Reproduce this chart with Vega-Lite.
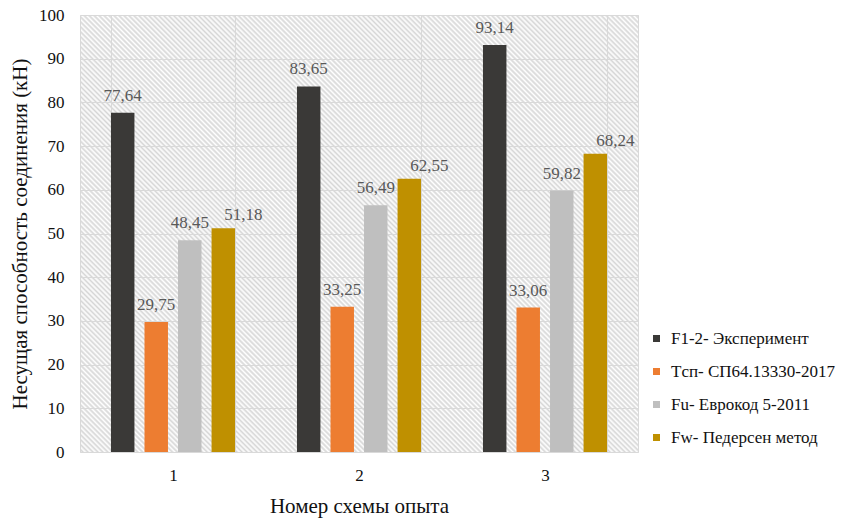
{
  "$schema": "https://vega.github.io/schema/vega-lite/v6.json",
  "autosize": {"type": "none"},
  "padding": {"left": 80, "top": 15, "right": 207, "bottom": 67},
  "width": 558,
  "height": 437,
  "background": "white",
  "config": {
    "font": "'Liberation Serif', 'Times New Roman', 'DejaVu Serif', serif",
    "locale": {"number": {"decimal": ",", "thousands": " ", "grouping": [3], "currency": ["", ""]}},
    "view": {
      "stroke": "#d9d9d9",
      "strokeWidth": 1,
      "fill": {
        "gradient": "linear",
        "x1": 1, "y1": 0, "x2": -0.105, "y2": 0.865,
        "stops": [
{"offset":0,"color":"#fff"},{"offset":0.0025,"color":"#d6d6d6"},{"offset":0.005,"color":"#fff"},{"offset":0.0075,"color":"#d6d6d6"},
{"offset":0.01,"color":"#fff"},{"offset":0.0125,"color":"#d6d6d6"},{"offset":0.015,"color":"#fff"},{"offset":0.0175,"color":"#d6d6d6"},
{"offset":0.02,"color":"#fff"},{"offset":0.0225,"color":"#d6d6d6"},{"offset":0.025,"color":"#fff"},{"offset":0.0275,"color":"#d6d6d6"},
{"offset":0.03,"color":"#fff"},{"offset":0.0325,"color":"#d6d6d6"},{"offset":0.035,"color":"#fff"},{"offset":0.0375,"color":"#d6d6d6"},
{"offset":0.04,"color":"#fff"},{"offset":0.0425,"color":"#d6d6d6"},{"offset":0.045,"color":"#fff"},{"offset":0.0475,"color":"#d6d6d6"},
{"offset":0.05,"color":"#fff"},{"offset":0.0525,"color":"#d6d6d6"},{"offset":0.055,"color":"#fff"},{"offset":0.0575,"color":"#d6d6d6"},
{"offset":0.06,"color":"#fff"},{"offset":0.0625,"color":"#d6d6d6"},{"offset":0.065,"color":"#fff"},{"offset":0.0675,"color":"#d6d6d6"},
{"offset":0.07,"color":"#fff"},{"offset":0.0725,"color":"#d6d6d6"},{"offset":0.075,"color":"#fff"},{"offset":0.0775,"color":"#d6d6d6"},
{"offset":0.08,"color":"#fff"},{"offset":0.0825,"color":"#d6d6d6"},{"offset":0.085,"color":"#fff"},{"offset":0.0875,"color":"#d6d6d6"},
{"offset":0.09,"color":"#fff"},{"offset":0.0925,"color":"#d6d6d6"},{"offset":0.095,"color":"#fff"},{"offset":0.0975,"color":"#d6d6d6"},
{"offset":0.10,"color":"#fff"},{"offset":0.1025,"color":"#d6d6d6"},{"offset":0.105,"color":"#fff"},{"offset":0.1075,"color":"#d6d6d6"},
{"offset":0.11,"color":"#fff"},{"offset":0.1125,"color":"#d6d6d6"},{"offset":0.115,"color":"#fff"},{"offset":0.1175,"color":"#d6d6d6"},
{"offset":0.12,"color":"#fff"},{"offset":0.1225,"color":"#d6d6d6"},{"offset":0.125,"color":"#fff"},{"offset":0.1275,"color":"#d6d6d6"},
{"offset":0.13,"color":"#fff"},{"offset":0.1325,"color":"#d6d6d6"},{"offset":0.135,"color":"#fff"},{"offset":0.1375,"color":"#d6d6d6"},
{"offset":0.14,"color":"#fff"},{"offset":0.1425,"color":"#d6d6d6"},{"offset":0.145,"color":"#fff"},{"offset":0.1475,"color":"#d6d6d6"},
{"offset":0.15,"color":"#fff"},{"offset":0.1525,"color":"#d6d6d6"},{"offset":0.155,"color":"#fff"},{"offset":0.1575,"color":"#d6d6d6"},
{"offset":0.16,"color":"#fff"},{"offset":0.1625,"color":"#d6d6d6"},{"offset":0.165,"color":"#fff"},{"offset":0.1675,"color":"#d6d6d6"},
{"offset":0.17,"color":"#fff"},{"offset":0.1725,"color":"#d6d6d6"},{"offset":0.175,"color":"#fff"},{"offset":0.1775,"color":"#d6d6d6"},
{"offset":0.18,"color":"#fff"},{"offset":0.1825,"color":"#d6d6d6"},{"offset":0.185,"color":"#fff"},{"offset":0.1875,"color":"#d6d6d6"},
{"offset":0.19,"color":"#fff"},{"offset":0.1925,"color":"#d6d6d6"},{"offset":0.195,"color":"#fff"},{"offset":0.1975,"color":"#d6d6d6"},
{"offset":0.20,"color":"#fff"},{"offset":0.2025,"color":"#d6d6d6"},{"offset":0.205,"color":"#fff"},{"offset":0.2075,"color":"#d6d6d6"},
{"offset":0.21,"color":"#fff"},{"offset":0.2125,"color":"#d6d6d6"},{"offset":0.215,"color":"#fff"},{"offset":0.2175,"color":"#d6d6d6"},
{"offset":0.22,"color":"#fff"},{"offset":0.2225,"color":"#d6d6d6"},{"offset":0.225,"color":"#fff"},{"offset":0.2275,"color":"#d6d6d6"},
{"offset":0.23,"color":"#fff"},{"offset":0.2325,"color":"#d6d6d6"},{"offset":0.235,"color":"#fff"},{"offset":0.2375,"color":"#d6d6d6"},
{"offset":0.24,"color":"#fff"},{"offset":0.2425,"color":"#d6d6d6"},{"offset":0.245,"color":"#fff"},{"offset":0.2475,"color":"#d6d6d6"},
{"offset":0.25,"color":"#fff"},{"offset":0.2525,"color":"#d6d6d6"},{"offset":0.255,"color":"#fff"},{"offset":0.2575,"color":"#d6d6d6"},
{"offset":0.26,"color":"#fff"},{"offset":0.2625,"color":"#d6d6d6"},{"offset":0.265,"color":"#fff"},{"offset":0.2675,"color":"#d6d6d6"},
{"offset":0.27,"color":"#fff"},{"offset":0.2725,"color":"#d6d6d6"},{"offset":0.275,"color":"#fff"},{"offset":0.2775,"color":"#d6d6d6"},
{"offset":0.28,"color":"#fff"},{"offset":0.2825,"color":"#d6d6d6"},{"offset":0.285,"color":"#fff"},{"offset":0.2875,"color":"#d6d6d6"},
{"offset":0.29,"color":"#fff"},{"offset":0.2925,"color":"#d6d6d6"},{"offset":0.295,"color":"#fff"},{"offset":0.2975,"color":"#d6d6d6"},
{"offset":0.30,"color":"#fff"},{"offset":0.3025,"color":"#d6d6d6"},{"offset":0.305,"color":"#fff"},{"offset":0.3075,"color":"#d6d6d6"},
{"offset":0.31,"color":"#fff"},{"offset":0.3125,"color":"#d6d6d6"},{"offset":0.315,"color":"#fff"},{"offset":0.3175,"color":"#d6d6d6"},
{"offset":0.32,"color":"#fff"},{"offset":0.3225,"color":"#d6d6d6"},{"offset":0.325,"color":"#fff"},{"offset":0.3275,"color":"#d6d6d6"},
{"offset":0.33,"color":"#fff"},{"offset":0.3325,"color":"#d6d6d6"},{"offset":0.335,"color":"#fff"},{"offset":0.3375,"color":"#d6d6d6"},
{"offset":0.34,"color":"#fff"},{"offset":0.3425,"color":"#d6d6d6"},{"offset":0.345,"color":"#fff"},{"offset":0.3475,"color":"#d6d6d6"},
{"offset":0.35,"color":"#fff"},{"offset":0.3525,"color":"#d6d6d6"},{"offset":0.355,"color":"#fff"},{"offset":0.3575,"color":"#d6d6d6"},
{"offset":0.36,"color":"#fff"},{"offset":0.3625,"color":"#d6d6d6"},{"offset":0.365,"color":"#fff"},{"offset":0.3675,"color":"#d6d6d6"},
{"offset":0.37,"color":"#fff"},{"offset":0.3725,"color":"#d6d6d6"},{"offset":0.375,"color":"#fff"},{"offset":0.3775,"color":"#d6d6d6"},
{"offset":0.38,"color":"#fff"},{"offset":0.3825,"color":"#d6d6d6"},{"offset":0.385,"color":"#fff"},{"offset":0.3875,"color":"#d6d6d6"},
{"offset":0.39,"color":"#fff"},{"offset":0.3925,"color":"#d6d6d6"},{"offset":0.395,"color":"#fff"},{"offset":0.3975,"color":"#d6d6d6"},
{"offset":0.40,"color":"#fff"},{"offset":0.4025,"color":"#d6d6d6"},{"offset":0.405,"color":"#fff"},{"offset":0.4075,"color":"#d6d6d6"},
{"offset":0.41,"color":"#fff"},{"offset":0.4125,"color":"#d6d6d6"},{"offset":0.415,"color":"#fff"},{"offset":0.4175,"color":"#d6d6d6"},
{"offset":0.42,"color":"#fff"},{"offset":0.4225,"color":"#d6d6d6"},{"offset":0.425,"color":"#fff"},{"offset":0.4275,"color":"#d6d6d6"},
{"offset":0.43,"color":"#fff"},{"offset":0.4325,"color":"#d6d6d6"},{"offset":0.435,"color":"#fff"},{"offset":0.4375,"color":"#d6d6d6"},
{"offset":0.44,"color":"#fff"},{"offset":0.4425,"color":"#d6d6d6"},{"offset":0.445,"color":"#fff"},{"offset":0.4475,"color":"#d6d6d6"},
{"offset":0.45,"color":"#fff"},{"offset":0.4525,"color":"#d6d6d6"},{"offset":0.455,"color":"#fff"},{"offset":0.4575,"color":"#d6d6d6"},
{"offset":0.46,"color":"#fff"},{"offset":0.4625,"color":"#d6d6d6"},{"offset":0.465,"color":"#fff"},{"offset":0.4675,"color":"#d6d6d6"},
{"offset":0.47,"color":"#fff"},{"offset":0.4725,"color":"#d6d6d6"},{"offset":0.475,"color":"#fff"},{"offset":0.4775,"color":"#d6d6d6"},
{"offset":0.48,"color":"#fff"},{"offset":0.4825,"color":"#d6d6d6"},{"offset":0.485,"color":"#fff"},{"offset":0.4875,"color":"#d6d6d6"},
{"offset":0.49,"color":"#fff"},{"offset":0.4925,"color":"#d6d6d6"},{"offset":0.495,"color":"#fff"},{"offset":0.4975,"color":"#d6d6d6"},
{"offset":0.50,"color":"#fff"},{"offset":0.5025,"color":"#d6d6d6"},{"offset":0.505,"color":"#fff"},{"offset":0.5075,"color":"#d6d6d6"},
{"offset":0.51,"color":"#fff"},{"offset":0.5125,"color":"#d6d6d6"},{"offset":0.515,"color":"#fff"},{"offset":0.5175,"color":"#d6d6d6"},
{"offset":0.52,"color":"#fff"},{"offset":0.5225,"color":"#d6d6d6"},{"offset":0.525,"color":"#fff"},{"offset":0.5275,"color":"#d6d6d6"},
{"offset":0.53,"color":"#fff"},{"offset":0.5325,"color":"#d6d6d6"},{"offset":0.535,"color":"#fff"},{"offset":0.5375,"color":"#d6d6d6"},
{"offset":0.54,"color":"#fff"},{"offset":0.5425,"color":"#d6d6d6"},{"offset":0.545,"color":"#fff"},{"offset":0.5475,"color":"#d6d6d6"},
{"offset":0.55,"color":"#fff"},{"offset":0.5525,"color":"#d6d6d6"},{"offset":0.555,"color":"#fff"},{"offset":0.5575,"color":"#d6d6d6"},
{"offset":0.56,"color":"#fff"},{"offset":0.5625,"color":"#d6d6d6"},{"offset":0.565,"color":"#fff"},{"offset":0.5675,"color":"#d6d6d6"},
{"offset":0.57,"color":"#fff"},{"offset":0.5725,"color":"#d6d6d6"},{"offset":0.575,"color":"#fff"},{"offset":0.5775,"color":"#d6d6d6"},
{"offset":0.58,"color":"#fff"},{"offset":0.5825,"color":"#d6d6d6"},{"offset":0.585,"color":"#fff"},{"offset":0.5875,"color":"#d6d6d6"},
{"offset":0.59,"color":"#fff"},{"offset":0.5925,"color":"#d6d6d6"},{"offset":0.595,"color":"#fff"},{"offset":0.5975,"color":"#d6d6d6"},
{"offset":0.60,"color":"#fff"},{"offset":0.6025,"color":"#d6d6d6"},{"offset":0.605,"color":"#fff"},{"offset":0.6075,"color":"#d6d6d6"},
{"offset":0.61,"color":"#fff"},{"offset":0.6125,"color":"#d6d6d6"},{"offset":0.615,"color":"#fff"},{"offset":0.6175,"color":"#d6d6d6"},
{"offset":0.62,"color":"#fff"},{"offset":0.6225,"color":"#d6d6d6"},{"offset":0.625,"color":"#fff"},{"offset":0.6275,"color":"#d6d6d6"},
{"offset":0.63,"color":"#fff"},{"offset":0.6325,"color":"#d6d6d6"},{"offset":0.635,"color":"#fff"},{"offset":0.6375,"color":"#d6d6d6"},
{"offset":0.64,"color":"#fff"},{"offset":0.6425,"color":"#d6d6d6"},{"offset":0.645,"color":"#fff"},{"offset":0.6475,"color":"#d6d6d6"},
{"offset":0.65,"color":"#fff"},{"offset":0.6525,"color":"#d6d6d6"},{"offset":0.655,"color":"#fff"},{"offset":0.6575,"color":"#d6d6d6"},
{"offset":0.66,"color":"#fff"},{"offset":0.6625,"color":"#d6d6d6"},{"offset":0.665,"color":"#fff"},{"offset":0.6675,"color":"#d6d6d6"},
{"offset":0.67,"color":"#fff"},{"offset":0.6725,"color":"#d6d6d6"},{"offset":0.675,"color":"#fff"},{"offset":0.6775,"color":"#d6d6d6"},
{"offset":0.68,"color":"#fff"},{"offset":0.6825,"color":"#d6d6d6"},{"offset":0.685,"color":"#fff"},{"offset":0.6875,"color":"#d6d6d6"},
{"offset":0.69,"color":"#fff"},{"offset":0.6925,"color":"#d6d6d6"},{"offset":0.695,"color":"#fff"},{"offset":0.6975,"color":"#d6d6d6"},
{"offset":0.70,"color":"#fff"},{"offset":0.7025,"color":"#d6d6d6"},{"offset":0.705,"color":"#fff"},{"offset":0.7075,"color":"#d6d6d6"},
{"offset":0.71,"color":"#fff"},{"offset":0.7125,"color":"#d6d6d6"},{"offset":0.715,"color":"#fff"},{"offset":0.7175,"color":"#d6d6d6"},
{"offset":0.72,"color":"#fff"},{"offset":0.7225,"color":"#d6d6d6"},{"offset":0.725,"color":"#fff"},{"offset":0.7275,"color":"#d6d6d6"},
{"offset":0.73,"color":"#fff"},{"offset":0.7325,"color":"#d6d6d6"},{"offset":0.735,"color":"#fff"},{"offset":0.7375,"color":"#d6d6d6"},
{"offset":0.74,"color":"#fff"},{"offset":0.7425,"color":"#d6d6d6"},{"offset":0.745,"color":"#fff"},{"offset":0.7475,"color":"#d6d6d6"},
{"offset":0.75,"color":"#fff"},{"offset":0.7525,"color":"#d6d6d6"},{"offset":0.755,"color":"#fff"},{"offset":0.7575,"color":"#d6d6d6"},
{"offset":0.76,"color":"#fff"},{"offset":0.7625,"color":"#d6d6d6"},{"offset":0.765,"color":"#fff"},{"offset":0.7675,"color":"#d6d6d6"},
{"offset":0.77,"color":"#fff"},{"offset":0.7725,"color":"#d6d6d6"},{"offset":0.775,"color":"#fff"},{"offset":0.7775,"color":"#d6d6d6"},
{"offset":0.78,"color":"#fff"},{"offset":0.7825,"color":"#d6d6d6"},{"offset":0.785,"color":"#fff"},{"offset":0.7875,"color":"#d6d6d6"},
{"offset":0.79,"color":"#fff"},{"offset":0.7925,"color":"#d6d6d6"},{"offset":0.795,"color":"#fff"},{"offset":0.7975,"color":"#d6d6d6"},
{"offset":0.80,"color":"#fff"},{"offset":0.8025,"color":"#d6d6d6"},{"offset":0.805,"color":"#fff"},{"offset":0.8075,"color":"#d6d6d6"},
{"offset":0.81,"color":"#fff"},{"offset":0.8125,"color":"#d6d6d6"},{"offset":0.815,"color":"#fff"},{"offset":0.8175,"color":"#d6d6d6"},
{"offset":0.82,"color":"#fff"},{"offset":0.8225,"color":"#d6d6d6"},{"offset":0.825,"color":"#fff"},{"offset":0.8275,"color":"#d6d6d6"},
{"offset":0.83,"color":"#fff"},{"offset":0.8325,"color":"#d6d6d6"},{"offset":0.835,"color":"#fff"},{"offset":0.8375,"color":"#d6d6d6"},
{"offset":0.84,"color":"#fff"},{"offset":0.8425,"color":"#d6d6d6"},{"offset":0.845,"color":"#fff"},{"offset":0.8475,"color":"#d6d6d6"},
{"offset":0.85,"color":"#fff"},{"offset":0.8525,"color":"#d6d6d6"},{"offset":0.855,"color":"#fff"},{"offset":0.8575,"color":"#d6d6d6"},
{"offset":0.86,"color":"#fff"},{"offset":0.8625,"color":"#d6d6d6"},{"offset":0.865,"color":"#fff"},{"offset":0.8675,"color":"#d6d6d6"},
{"offset":0.87,"color":"#fff"},{"offset":0.8725,"color":"#d6d6d6"},{"offset":0.875,"color":"#fff"},{"offset":0.8775,"color":"#d6d6d6"},
{"offset":0.88,"color":"#fff"},{"offset":0.8825,"color":"#d6d6d6"},{"offset":0.885,"color":"#fff"},{"offset":0.8875,"color":"#d6d6d6"},
{"offset":0.89,"color":"#fff"},{"offset":0.8925,"color":"#d6d6d6"},{"offset":0.895,"color":"#fff"},{"offset":0.8975,"color":"#d6d6d6"},
{"offset":0.90,"color":"#fff"},{"offset":0.9025,"color":"#d6d6d6"},{"offset":0.905,"color":"#fff"},{"offset":0.9075,"color":"#d6d6d6"},
{"offset":0.91,"color":"#fff"},{"offset":0.9125,"color":"#d6d6d6"},{"offset":0.915,"color":"#fff"},{"offset":0.9175,"color":"#d6d6d6"},
{"offset":0.92,"color":"#fff"},{"offset":0.9225,"color":"#d6d6d6"},{"offset":0.925,"color":"#fff"},{"offset":0.9275,"color":"#d6d6d6"},
{"offset":0.93,"color":"#fff"},{"offset":0.9325,"color":"#d6d6d6"},{"offset":0.935,"color":"#fff"},{"offset":0.9375,"color":"#d6d6d6"},
{"offset":0.94,"color":"#fff"},{"offset":0.9425,"color":"#d6d6d6"},{"offset":0.945,"color":"#fff"},{"offset":0.9475,"color":"#d6d6d6"},
{"offset":0.95,"color":"#fff"},{"offset":0.9525,"color":"#d6d6d6"},{"offset":0.955,"color":"#fff"},{"offset":0.9575,"color":"#d6d6d6"},
{"offset":0.96,"color":"#fff"},{"offset":0.9625,"color":"#d6d6d6"},{"offset":0.965,"color":"#fff"},{"offset":0.9675,"color":"#d6d6d6"},
{"offset":0.97,"color":"#fff"},{"offset":0.9725,"color":"#d6d6d6"},{"offset":0.975,"color":"#fff"},{"offset":0.9775,"color":"#d6d6d6"},
{"offset":0.98,"color":"#fff"},{"offset":0.9825,"color":"#d6d6d6"},{"offset":0.985,"color":"#fff"},{"offset":0.9875,"color":"#d6d6d6"},
{"offset":0.99,"color":"#fff"},{"offset":0.9925,"color":"#d6d6d6"},{"offset":0.995,"color":"#fff"},{"offset":0.9975,"color":"#d6d6d6"},
{"offset":1,"color":"#fff"}
        ]
      }
    },
    "axis": {
      "labelFont": "'Liberation Serif', 'Times New Roman', 'DejaVu Serif', serif",
      "titleFont": "'Liberation Serif', 'Times New Roman', 'DejaVu Serif', serif",
      "labelFontSize": 17,
      "titleFontSize": 21,
      "labelColor": "#111111",
      "titleColor": "#111111",
      "titleFontWeight": "normal",
      "gridColor": "#d9d9d9",
      "gridWidth": 1,
      "domain": false,
      "ticks": false
    },
    "legend": {
      "labelFont": "'Liberation Serif', 'Times New Roman', 'DejaVu Serif', serif",
      "labelFontSize": 17,
      "labelColor": "#111111",
      "labelLimit": 300
    }
  },
  "data": {
    "values": [
      {"scheme": "1", "series": "F1-2- Эксперимент", "value": 77.64},
      {"scheme": "1", "series": "Tсп- СП64.13330-2017", "value": 29.75},
      {"scheme": "1", "series": "Fu- Еврокод 5-2011", "value": 48.45},
      {"scheme": "1", "series": "Fw- Педерсен метод", "value": 51.18},
      {"scheme": "2", "series": "F1-2- Эксперимент", "value": 83.65},
      {"scheme": "2", "series": "Tсп- СП64.13330-2017", "value": 33.25},
      {"scheme": "2", "series": "Fu- Еврокод 5-2011", "value": 56.49},
      {"scheme": "2", "series": "Fw- Педерсен метод", "value": 62.55},
      {"scheme": "3", "series": "F1-2- Эксперимент", "value": 93.14},
      {"scheme": "3", "series": "Tсп- СП64.13330-2017", "value": 33.06},
      {"scheme": "3", "series": "Fu- Еврокод 5-2011", "value": 59.82},
      {"scheme": "3", "series": "Fw- Педерсен метод", "value": 68.24}
    ]
  },
  "encoding": {
    "x": {
      "field": "scheme",
      "type": "nominal",
      "scale": {"paddingInner": 0.333, "paddingOuter": 0.1665},
      "axis": {
        "title": "Номер схемы опыта",
        "labelAngle": 0,
        "labelPadding": 15,
        "titlePadding": 12,
        "grid": true,
        "tickBand": "extent"
      }
    },
    "xOffset": {
      "field": "series",
      "type": "nominal",
      "sort": ["F1-2- Эксперимент", "Tсп- СП64.13330-2017", "Fu- Еврокод 5-2011", "Fw- Педерсен метод"],
      "scale": {"paddingInner": 0.3, "paddingOuter": 0}
    },
    "y": {
      "field": "value",
      "type": "quantitative",
      "scale": {"domain": [0, 100], "nice": false},
      "axis": {
        "title": "Несущая способность соединения (кН)",
        "values": [0, 10, 20, 30, 40, 50, 60, 70, 80, 90, 100],
        "labelPadding": 16,
        "titlePadding": 8,
        "grid": true
      }
    }
  },
  "layer": [
    {
      "mark": {"type": "bar"},
      "encoding": {
        "color": {
          "field": "series",
          "type": "nominal",
          "sort": ["F1-2- Эксперимент", "Tсп- СП64.13330-2017", "Fu- Еврокод 5-2011", "Fw- Педерсен метод"],
          "scale": {
            "domain": ["F1-2- Эксперимент", "Tсп- СП64.13330-2017", "Fu- Еврокод 5-2011", "Fw- Педерсен метод"],
            "range": ["#3a3937", "#ed7d31", "#bfbfbf", "#bf9000"]
          },
          "legend": {
            "title": null,
            "orient": "none",
            "legendX": 568,
            "legendY": 315,
            "symbolType": "square",
            "symbolSize": 49,
            "symbolStrokeWidth": 0,
            "labelOffset": 6,
            "rowPadding": 15,
            "padding": 0
          }
        }
      }
    },
    {
      "transform": [{"filter": "datum.series !== 'Fw- Педерсен метод'"}],
      "mark": {"type": "text", "baseline": "alphabetic", "dy": -12, "fontSize": 17, "color": "#595959"},
      "encoding": {
        "text": {"field": "value", "type": "quantitative", "format": ".2f"}
      }
    },
    {
      "transform": [{"filter": "datum.series === 'Fw- Педерсен метод'"}],
      "mark": {"type": "text", "baseline": "alphabetic", "dy": -8, "dx": 20, "fontSize": 17, "color": "#595959"},
      "encoding": {
        "text": {"field": "value", "type": "quantitative", "format": ".2f"}
      }
    }
  ]
}
